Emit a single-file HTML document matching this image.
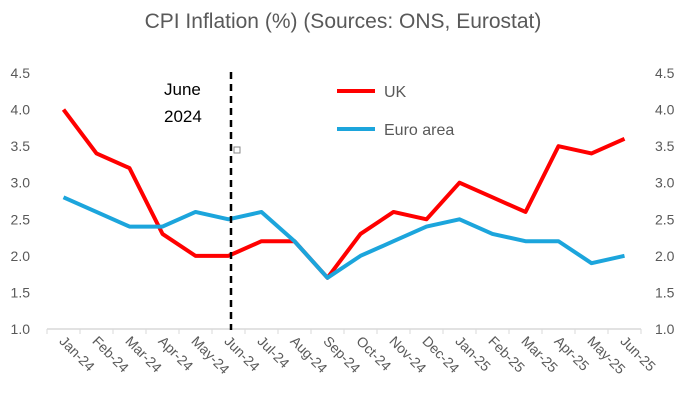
<!DOCTYPE html>
<html><head><meta charset="utf-8"><style>
body{margin:0;background:#fff;}
svg{font-family:"Liberation Sans",sans-serif;}
</style></head><body>
<svg width="687" height="403">
<text x="343" y="28" text-anchor="middle" font-size="21" fill="#595959">CPI Inflation (%) (Sources: ONS, Eurostat)</text>
<g id="grid"></g><g id="marks"></g><g id="labels"></g>
<line x1="231" y1="72" x2="231" y2="330" stroke="#000" stroke-width="2.5" stroke-dasharray="7,5"/>
<text x="164" y="95" font-size="17" fill="#000">June</text>
<text x="164" y="122" font-size="17" fill="#000">2024</text>
<rect x="234" y="147" width="6" height="6" fill="#fff" stroke="#888"/>
<line x1="337" y1="91" x2="375" y2="91" stroke="#ff0000" stroke-width="4"/>
<text x="384" y="97" font-size="16" fill="#595959">UK</text>
<line x1="337" y1="129" x2="375" y2="129" stroke="#1ca5dc" stroke-width="4"/>
<text x="384" y="135" font-size="16" fill="#595959">Euro area</text>
</svg>
<script>
const categories=["Jan-24","Feb-24","Mar-24","Apr-24","May-24","Jun-24","Jul-24","Aug-24","Sep-24","Oct-24","Nov-24","Dec-24","Jan-25","Feb-25","Mar-25","Apr-25","May-25","Jun-25"];
const ukValues=[4.0,3.4,3.2,2.3,2.0,2.0,2.2,2.2,1.7,2.3,2.6,2.5,3.0,2.8,2.6,3.5,3.4,3.6];
const euroValues=[2.8,2.6,2.4,2.4,2.6,2.5,2.6,2.2,1.7,2.0,2.2,2.4,2.5,2.3,2.2,2.2,1.9,2.0];
const yTicks=["1.0","1.5","2.0","2.5","3.0","3.5","4.0","4.5"];
const NS="http://www.w3.org/2000/svg";
const x0=47,x1=641,yMin=1.0,yMax=4.5,py0=329,py1=73;
const step=(x1-x0)/categories.length;
const xs=i=>x0+step*(i+0.5);
const ys=v=>py0-(v-yMin)/(yMax-yMin)*(py0-py1);
function mk(t,a,p){const e=document.createElementNS(NS,t);for(const k in a)e.setAttribute(k,a[k]);p.appendChild(e);return e;}
const grid=document.getElementById('grid'),marks=document.getElementById('marks'),labels=document.getElementById('labels');
const ax=mk('line',{x1:x0,y1:py0,x2:x1,y2:py0,stroke:'#d9d9d9','stroke-width':1.5},grid);


for(let i=0;i<=categories.length;i++){const t=mk('line',{x1:x0+step*i,y1:py0,x2:x0+step*i,y2:py0+5,stroke:'#d9d9d9'},grid);

}
yTicks.forEach(s=>{const v=parseFloat(s);
const l=mk('text',{x:30,y:ys(v)+5,'text-anchor':'end','font-size':14,fill:'#595959'},labels);l.textContent=s;


const r=mk('text',{x:655,y:ys(v)+5,'font-size':14,fill:'#595959'},labels);r.textContent=s;

});
categories.forEach((c,i)=>{const cx=xs(i)-5,cy=342;
const t=mk('text',{x:cx,y:cy,'font-size':14,fill:'#595959',transform:`rotate(45 ${cx} ${cy})`},labels);t.textContent=c;

});
function line(vals,color,name){const p=mk('polyline',{points:vals.map((v,i)=>xs(i)+','+ys(v)).join(' '),fill:'none',stroke:color,'stroke-width':4,'stroke-linejoin':'round'},marks);

}
line(ukValues,'#ff0000','uk-line');
line(euroValues,'#1ca5dc','euro-area-line');
</script>
</body></html>
